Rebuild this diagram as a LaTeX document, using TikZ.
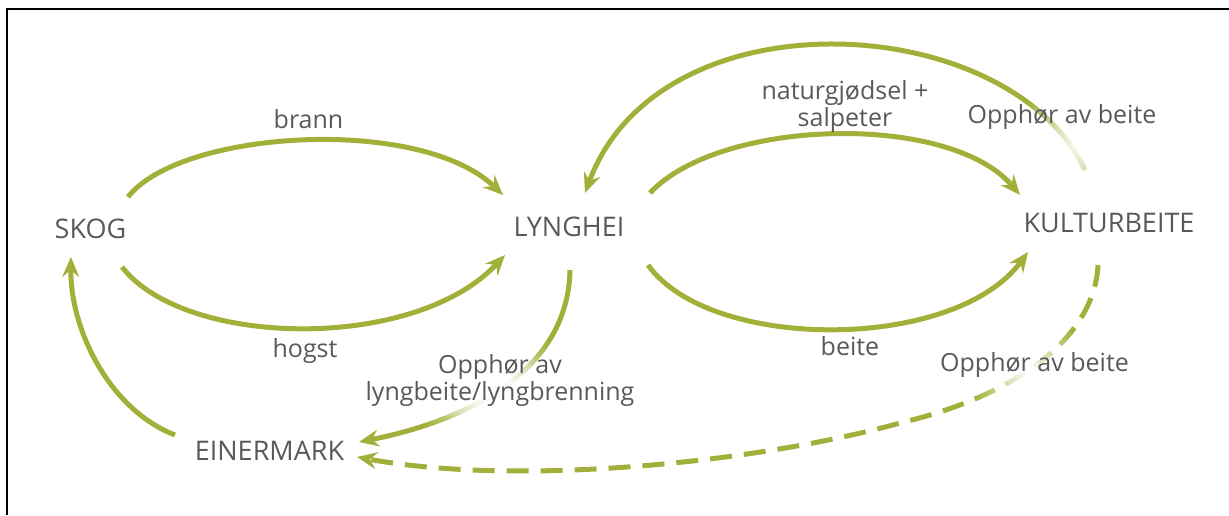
\documentclass[tikz,border=0pt]{standalone}
\usepackage{fontspec}
\setmainfont{Open Sans}
\usetikzlibrary{arrows.meta,fadings}
\definecolor{olive}{RGB}{162,176,58}
\definecolor{txt}{RGB}{88,89,91}
\tikzfading[name=softblob, inner color=transparent!0, outer color=transparent!100]
\begin{document}
\begin{tikzpicture}[x=1pt,y=-1pt,
  state/.style={text=txt,font=\fontsize{27}{30}\selectfont,inner sep=0pt,anchor=base},
  lbl/.style={text=txt,font=\fontsize{25}{27}\selectfont,inner sep=0pt,align=center,anchor=base},
  flow/.style={draw=olive,line width=5pt,-{Stealth[length=20pt,width=17pt,inset=7pt]}},
  dashflow/.style={flow,dash pattern=on 22pt off 12pt},
  blob/.style={fill=white,path fading=softblob}]
\useasboundingbox (0,0) rectangle (1229,515);
\draw[line width=1.3pt] (7,515) -- (7,9) -- (1229,9);

% named end points of the connectors
\coordinate (b1) at (128,197);   \coordinate (b2) at (503,195);
\coordinate (h1) at (122,267);   \coordinate (h2) at (505,255);
\coordinate (o1) at (1085,170);  \coordinate (o2) at (585,193);
\coordinate (n1) at (650,193);   \coordinate (n2) at (1020,195);
\coordinate (e1) at (648,265);   \coordinate (e2) at (1028,252);
\coordinate (l1) at (570,270);   \coordinate (l2) at (359,442);
\coordinate (s1) at (175,435);   \coordinate (s2) at (71,257);
\coordinate (d1) at (1098,265);  \coordinate (dm) at (900,423);  \coordinate (d2) at (357,457);

% connectors
\draw[flow] (b1) .. controls (180,130) and (420,115) .. (b2);
\draw[flow] (h1) .. controls (185,348) and (415,352) .. (h2);
\draw[flow] (o1) .. controls (1010,10) and (660,-10) .. (o2);
\draw[flow] (n1) .. controls (720,118) and (950,112) .. (n2);
\draw[flow] (e1) .. controls (710,352) and (955,352) .. (e2);
\draw[flow] (l1) .. controls (568,370) and (470,420) .. (l2);
\draw[flow] (s1) .. controls (110,410) and (70,330) .. (s2);
\draw[dashflow] (d1) .. controls (1095,330) and (1030,392) .. (dm)
                     .. controls (760,462) and (520,487) .. (d2);

% fades
\fill[blob] (1080,143) ellipse (66 and 66);
\fill[blob] (495,392) ellipse (82 and 64);
\fill[blob] (495,392) ellipse (60 and 48);
\fill[blob] (1027,370) ellipse (62 and 57);

% states
\node[state] (skog) at (90.5,238) {SKOG};
\node[state] (lynghei) at (569,236) {LYNGHEI};
\node[state] (kultur) at (1109,232) {KULTURBEITE};
\node[state] (einer) at (269.5,460) {EINERMARK};

% labels
\node[lbl] (brann) at (308.5,128) {brann};
\node[lbl] (hogst) at (305,357) {hogst};
\node[lbl] (natur) at (845,126) {naturgjødsel +\\salpeter};
\node[lbl] (beite) at (850,355) {beite};
\node[lbl] (opph1) at (1062,123) {Opphør av beite};
\node[lbl] (opph2) at (1034.5,371) {Opphør av beite};
\node[lbl] (opph3) at (500,400) {Opphør av\\lyngbeite/lyngbrenning};
\end{tikzpicture}
\end{document}
